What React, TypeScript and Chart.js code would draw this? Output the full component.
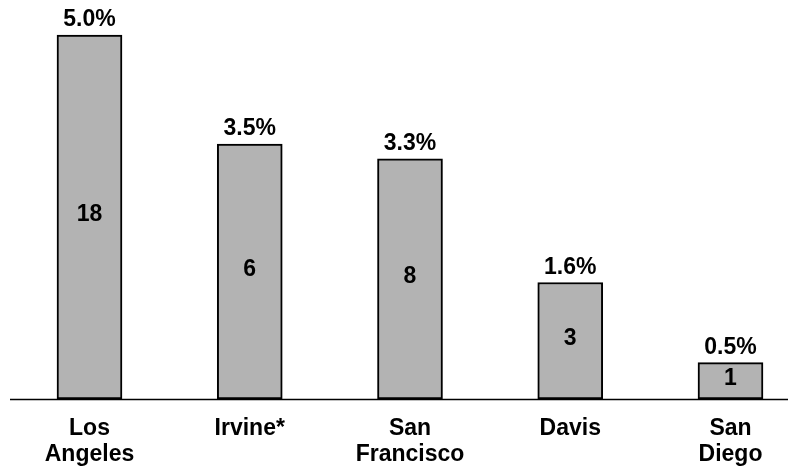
import React, { useEffect, useRef } from "react";
import { Chart, registerables } from "chart.js";

Chart.register(...registerables);

const categories: string[][] = [["Los", "Angeles"], ["Irvine*"], ["San", "Francisco"], ["Davis"], ["San", "Diego"]];
const percentValues: number[] = [5.0, 3.5, 3.3, 1.6, 0.5];
const countValues: number[] = [18, 6, 8, 3, 1];

const FONT = "'Liberation Sans', Arial, sans-serif";
const FONT_SIZE = 23;

const labelPlugin = {
  id: "barLabels",
  afterDatasetsDraw(chart: any) {
    const { ctx, chartArea } = chart;
    ctx.save();
    // axis line
    ctx.strokeStyle = "#000";
    ctx.lineWidth = 1.5;
    ctx.beginPath();
    ctx.moveTo(10, chartArea.bottom + 0.5);
    ctx.lineTo(chart.width, chartArea.bottom + 0.5);
    ctx.stroke();
    const meta = chart.getDatasetMeta(0);
    ctx.fillStyle = "#000";
    ctx.font = `bold ${FONT_SIZE}px ${FONT}`;
    ctx.textAlign = "center";
    meta.data.forEach((bar: any, i: number) => {
      ctx.textBaseline = "alphabetic";
      ctx.fillText(percentValues[i].toFixed(1) + "%", bar.x, bar.y - 9);
      ctx.textBaseline = "middle";
      ctx.fillText(String(countValues[i]), bar.x, (bar.y + bar.base) / 2 - 2);
    });
    ctx.restore();
  },
};

export default function App() {
  const ref = useRef<HTMLCanvasElement>(null);
  useEffect(() => {
    if (!ref.current) return;
    const chart = new Chart(ref.current, {
      type: "bar",
      data: {
        labels: categories,
        datasets: [
          {
            data: percentValues,
            backgroundColor: "#b3b3b3",
            borderColor: "#000",
            borderWidth: 2,
            borderSkipped: false,
            barThickness: 65,
            clip: false as any,
          },
        ],
      },
      options: {
        animation: false,
        responsive: false,
        layout: { padding: { top: 35, left: 89.5, right: 57.5, bottom: 0 } },
        plugins: { legend: { display: false }, tooltip: { enabled: false } },
        scales: {
          x: {
            offset: false,
            border: { display: false },
            grid: { display: false, drawTicks: false },
            afterFit: (s: any) => {
              s.height = 71;
            },
            ticks: {
              color: "#000",
              padding: 17,
              maxRotation: 0,
              autoSkip: false,
              font: { family: FONT, size: FONT_SIZE, weight: "bold", lineHeight: 1.13 },
            },
          },
          y: { display: false, min: 0, max: 5 },
        },
      },
      plugins: [labelPlugin],
    });
    return () => chart.destroy();
  }, []);
  return (
    <div style={{ position: "absolute", left: 0, top: 0, width: 788, height: 470 }}>
      <canvas ref={ref} width={788} height={470} style={{ display: "block" }} />
    </div>
  );
}
